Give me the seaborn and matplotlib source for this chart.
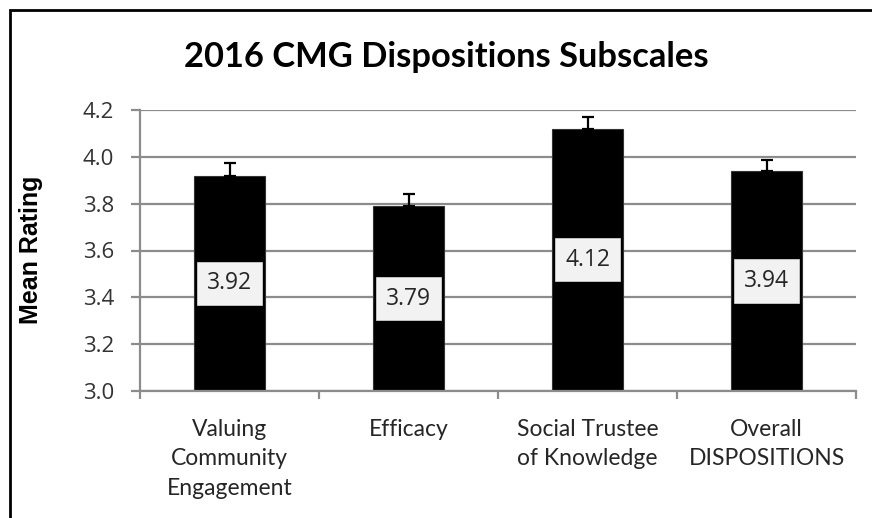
import matplotlib
matplotlib.use("Agg")
import matplotlib.pyplot as plt
import seaborn as sns
import pandas as pd
from matplotlib.patches import Rectangle

categories = ["Valuing\nCommunity\nEngagement", "Efficacy",
              "Social Trustee\nof Knowledge", "Overall\nDISPOSITIONS"]
means = [3.92, 3.79, 4.12, 3.94]
errors = [0.055, 0.05, 0.05, 0.045]
y_ticks = [3.0, 3.2, 3.4, 3.6, 3.8, 4.0, 4.2]

df = pd.DataFrame({"Subscale": categories, "Mean": means})

sns.set_theme(style="white")
plt.rcParams["font.family"] = ["Lato", "DejaVu Sans"]

W, H = 872, 518
fig = plt.figure(figsize=(W / 100, H / 100), dpi=100)
ax = fig.add_axes([140 / W, 1 - 391 / H, (856 - 140) / W, (391 - 110) / H])

grid_c = "#8c8c8c"
ax.set_axisbelow(True)
ax.yaxis.grid(True, color=grid_c, linewidth=1.6)

sns.barplot(data=df, x="Subscale", y="Mean", color="black", width=0.4,
            edgecolor="#333333", linewidth=0.8, saturation=1,
            errorbar=None, ax=ax)

xpos = list(range(len(categories)))
ax.errorbar(xpos, means, yerr=[[0] * len(errors), errors], fmt="none",
            ecolor="black", elinewidth=1.6, capsize=4, capthick=1.6)

# value labels centred in each bar
for x, m in zip(xpos, means):
    ax.text(x, (3.0 + m) / 2, f"{m:.2f}", ha="center", va="center",
            fontsize=16.5, family=["Open Sans", "DejaVu Sans"], color="#262626",
            bbox=dict(boxstyle="square,pad=0.42", facecolor="#f2f2f2",
                      edgecolor="#e0e0e0", linewidth=0.5))

ax.set_ylim(3.0, 4.2)
ax.set_xlim(-0.5, len(categories) - 0.5)
ax.set_yticks(y_ticks)
ax.set_yticklabels([f"{t:.1f}" for t in y_ticks],
                   family=["Open Sans", "DejaVu Sans"], fontsize=16, color="#333333")
ax.set_xticks([i - 0.5 for i in range(len(categories) + 1)], minor=False)
ax.set_xticklabels([])
ax.set_xticks(xpos, minor=True)
ax.set_xticklabels(categories, minor=True, fontsize=16.5, color="#262626",
                   linespacing=1.5)
ax.tick_params(axis="x", which="minor", length=0, pad=20)
ax.tick_params(axis="x", which="major", length=6, width=1.6, color=grid_c,
               direction="out", bottom=True)
ax.tick_params(axis="y", length=6.5, width=1.6, color=grid_c, direction="out",
               left=True, pad=12)
for s in ["top", "right"]:
    ax.spines[s].set_visible(False)
for s in ["left", "bottom"]:
    ax.spines[s].set_color(grid_c)
    ax.spines[s].set_linewidth(1.6)

ax.set_xlabel("")
ax.set_ylabel("Mean Rating", family=["Liberation Sans", "DejaVu Sans"],
              fontsize=18, fontweight="bold", color="black")
ax.yaxis.set_label_coords(43 / W, 1 - 250 / H, transform=fig.transFigure)

fig.text(446 / W, 1 - 57 / H, "2016 CMG Dispositions Subscales",
         ha="center", va="center", fontsize=24.8, fontweight="bold", color="black")

# outer chart frame, open at right and bottom
fig.patches.append(Rectangle((10 / W, -0.1), 1.2, 1 - 10 / H + 0.1,
                             transform=fig.transFigure, fill=False,
                             edgecolor="black", linewidth=2, zorder=10))

fig.savefig("out.png", dpi=100)
